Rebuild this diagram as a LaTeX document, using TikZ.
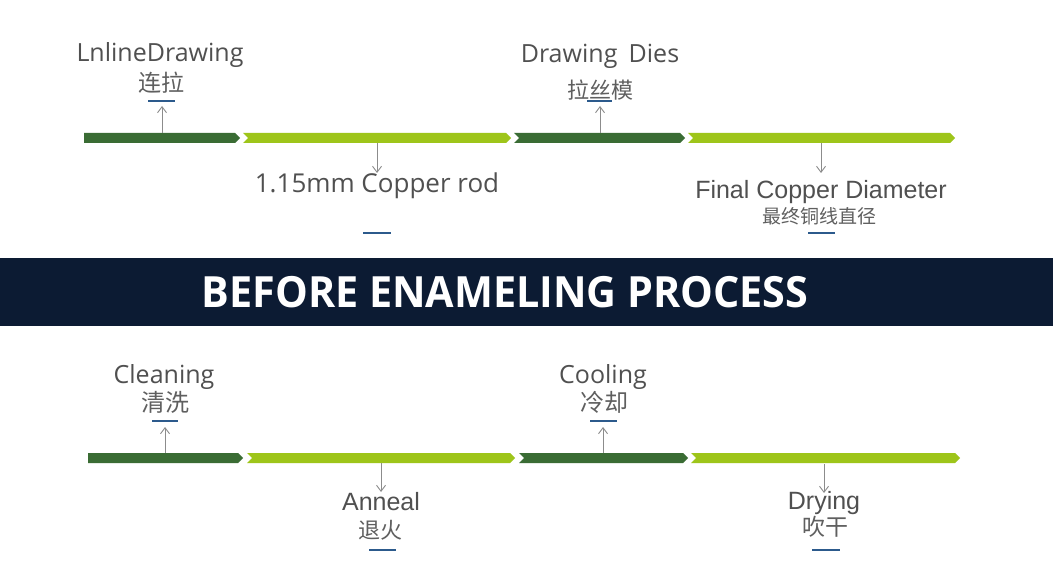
\documentclass[tikz,border=0pt]{standalone}
\usepackage{fontspec}
\setmainfont{Open Sans}
\newfontfamily\cjk{Noto Sans CJK SC}
\newfontfamily\arialf{Liberation Sans}
\usetikzlibrary{arrows.meta}
\definecolor{dkgreen}{RGB}{58,108,52}
\definecolor{ltgreen}{RGB}{158,197,26}
\definecolor{navy}{RGB}{12,27,51}
\definecolor{txtgray}{RGB}{80,80,80}
\definecolor{cjkgray}{RGB}{95,95,95}
\definecolor{arrgray}{RGB}{140,140,140}
\definecolor{ulblue}{RGB}{44,90,140}
\newcommand\segA[4]{\fill[#4] (#1,#3-5) -- (#2-5,#3-5) -- (#2,#3) -- (#2-5,#3+5) -- (#1,#3+5) -- cycle;}
\newcommand\segB[4]{\fill[#4] (#1,#3-5) -- (#2-5,#3-5) -- (#2,#3) -- (#2-5,#3+5) -- (#1,#3+5) -- (#1+5,#3) -- cycle;}
\begin{document}
\begin{tikzpicture}[x=1pt,y=-1pt,
  lbl/.style={anchor=base, text=txtgray, inner sep=0pt},
  cjklbl/.style={anchor=center, text=cjkgray, inner sep=0pt},
  pointer/.style={draw=arrgray, line width=0.9pt, -{Straight Barb[length=6pt,width=9pt,line width=0.9pt]}},
  uline/.style={draw=ulblue, line width=2pt},
  fs/.style={font=\fontsize{#1}{#1}\selectfont},
  cfs/.style={font=\cjk\fontsize{#1}{#1}\selectfont},
  afs/.style={font=\arialf\fontsize{#1}{#1}\selectfont}]
\useasboundingbox (0,0) rectangle (1060,572);
\fill[white] (0,0) rectangle (1060,572);

% banner
\fill[navy] (0,258) rectangle (1053,326);
\node[text=white, inner sep=0pt, xscale=0.96, font=\bfseries\fontsize{43}{43}\selectfont] (title) at (505,292) {BEFORE ENAMELING PROCESS};

% upper timeline
\segA{84}{240}{138}{dkgreen}
\segB{243}{511}{138}{ltgreen}
\segB{514}{685}{138}{dkgreen}
\segB{688}{955}{138}{ltgreen}

% lower timeline
\segA{88}{243}{458}{dkgreen}
\segB{247}{515}{458}{ltgreen}
\segB{519}{688}{458}{dkgreen}
\segB{691}{960}{458}{ltgreen}

% upper labels
\node[lbl, fs=25] (u1en) at (160,62) {LnlineDrawing};
\node[cjklbl, cfs=23] (u1cn) at (161,83) {连拉};
\draw[uline] (148,101) -- (175,101);
\coordinate (u1a) at (162,133); \coordinate (u1b) at (162,106);
\draw[pointer] (u1a) -- (u1b);

\node[lbl, fs=26] (u2en) at (377,193) {1.15mm Copper rod};
\draw[uline] (363,233) -- (391,233);
\coordinate (u2a) at (377,143); \coordinate (u2b) at (377,173);
\draw[pointer] (u2a) -- (u2b);

\node[lbl, fs=25] (u3en) at (600,63) {Drawing\hspace{0.45em}Dies};
\node[cjklbl, cfs=22] (u3cn) at (600,90) {拉丝模};
\draw[uline] (587,101) -- (612,101);
\coordinate (u3a) at (600,133); \coordinate (u3b) at (600,106);
\draw[pointer] (u3a) -- (u3b);

\node[lbl, afs=25] (u4en) at (821,199) {Final Copper Diameter};
\node[cjklbl, cfs=19] (u4cn) at (819,216) {最终铜线直径};
\draw[uline] (808,233) -- (835,233);
\coordinate (u4a) at (821,143); \coordinate (u4b) at (821,173);
\draw[pointer] (u4a) -- (u4b);

% lower labels
\node[lbl, fs=25] (l1en) at (164,383) {Cleaning};
\node[cjklbl, cfs=24] (l1cn) at (165,402) {清洗};
\draw[uline] (152,421) -- (178,421);
\coordinate (l1a) at (165,453); \coordinate (l1b) at (165,427);
\draw[pointer] (l1a) -- (l1b);

\node[lbl, afs=25] (l2en) at (381,510) {Anneal};
\node[cjklbl, cfs=22] (l2cn) at (380,530) {退火};
\draw[uline] (369,550) -- (396,550);
\coordinate (l2a) at (381,463); \coordinate (l2b) at (381,492);
\draw[pointer] (l2a) -- (l2b);

\node[lbl, fs=25] (l3en) at (603,383) {Cooling};
\node[cjklbl, cfs=24] (l3cn) at (604,402) {冷却};
\draw[uline] (590,421) -- (617,421);
\coordinate (l3a) at (603,453); \coordinate (l3b) at (603,427);
\draw[pointer] (l3a) -- (l3b);

\node[lbl, afs=25] (l4en) at (824,509) {Drying};
\node[cjklbl, cfs=23] (l4cn) at (825,527) {吹干};
\draw[uline] (812,550) -- (840,550);
\coordinate (l4a) at (824,464); \coordinate (l4b) at (824,493);
\draw[pointer] (l4a) -- (l4b);
\end{tikzpicture}
\end{document}
